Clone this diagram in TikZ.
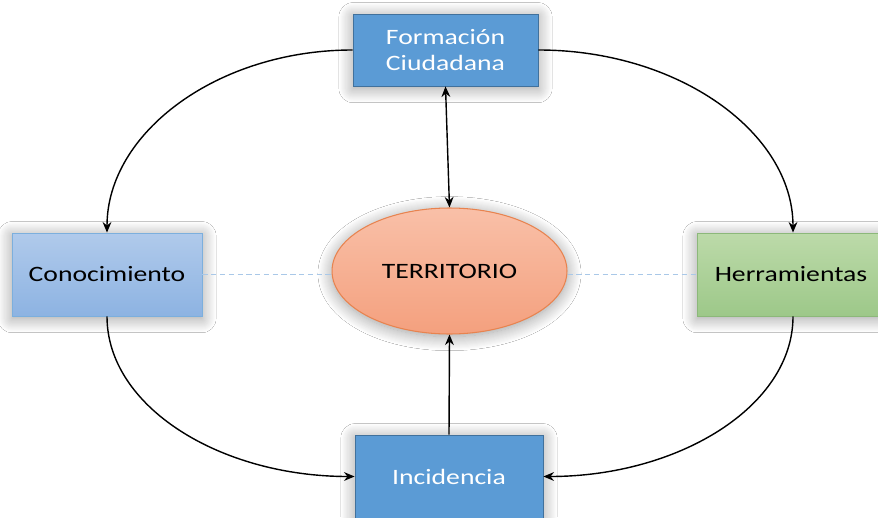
\documentclass[tikz,border=0pt]{standalone}
\usepackage{fontspec}
\setmainfont{Carlito}[FakeStretch=1.26]
\usetikzlibrary{shapes.geometric,shadows.blur,arrows.meta}
\definecolor{offblue}{HTML}{5B9BD5}
\definecolor{offblueborder}{HTML}{41719C}
\definecolor{lbtop}{HTML}{B0CAEB}
\definecolor{lbbot}{HTML}{8DB3E2}
\definecolor{lgtop}{HTML}{BCDAA9}
\definecolor{lgbot}{HTML}{9DC889}
\definecolor{lgborder}{HTML}{8CB87A}
\definecolor{oratop}{HTML}{F9C0A8}
\definecolor{orabot}{HTML}{F4A07E}
\definecolor{oraborder}{HTML}{E8834F}
\definecolor{dashblue}{HTML}{A9C8E8}
\tikzset{
  shadowed/.style={blur shadow={shadow xshift=0pt,shadow yshift=-1.5pt,shadow blur radius=8pt,shadow blur steps=14,shadow opacity=40}},
  darkbox/.style={rectangle,shadowed,fill=offblue,draw=offblueborder,line width=0.5pt,text=white,
    font=\fontsize{12.5}{14.3}\selectfont,align=center,inner sep=0pt},
  lightbluebox/.style={rectangle,shadowed,top color=lbtop,bottom color=lbbot,draw=offblue!80,line width=0.5pt,
    text=black,font=\fontsize{12.5}{14.3}\selectfont,inner sep=0pt},
  greenbox/.style={rectangle,shadowed,top color=lgtop,bottom color=lgbot,draw=lgborder,line width=0.5pt,
    text=black,font=\fontsize{12.5}{14.3}\selectfont,inner sep=0pt},
  terr/.style={ellipse,shadowed,top color=oratop,bottom color=orabot,draw=oraborder,line width=0.6pt,
    text=black,font=\fontsize{12.5}{14.3}\selectfont,inner sep=0pt},
  link/.style={draw=black,line width=0.8pt,-{Stealth[length=6pt,width=5pt]}},
  dlink/.style={draw=black,line width=0.8pt,{Stealth[length=6pt,width=5pt]}-{Stealth[length=6pt,width=5pt]}},
  dashlink/.style={draw=dashblue,line width=0.6pt,dash pattern=on 3pt off 2pt}
}
\begin{document}
\begin{tikzpicture}[x=0.02cm,y=-0.02cm]
\useasboundingbox[fill=white] (0,0) rectangle (878,517);
\node[darkbox,minimum width=3.7cm,minimum height=1.44cm] (form) at (445.5,50) {Formación\\Ciudadana};
\node[lightbluebox,minimum width=3.8cm,minimum height=1.66cm] (con) at (107,274.5) {Conocimiento};
\node[greenbox,minimum width=3.76cm,minimum height=1.66cm] (her) at (791,274.5) {Herramientas};
\node[darkbox,minimum width=3.76cm,minimum height=1.66cm] (inc) at (449,476.5) {Incidencia};
\node[terr,minimum width=4.7cm,minimum height=2.52cm] (ter) at (449.5,271) {TERRITORIO};
\draw[link] (form.west) .. controls +(-135,0) and +(0,-100) .. (con.north);
\draw[link] (form.east) .. controls +(140,0) and +(0,-100) .. (her.north -| 793,0);
\draw[link] (con.south) .. controls +(0,90) and +(-135,0) .. (inc.west);
\draw[link] (her.south -| 793,0) .. controls +(0,90) and +(135,0) .. (inc.east);
\draw[dlink] (form.south) -- (ter.north);
\draw[link] (inc.north) -- (ter.south);
\draw[dashlink] (con.east) -- (con.east -| ter.west);
\draw[dashlink] (her.west -| ter.east) -- (her.west);
\end{tikzpicture}
\end{document}
